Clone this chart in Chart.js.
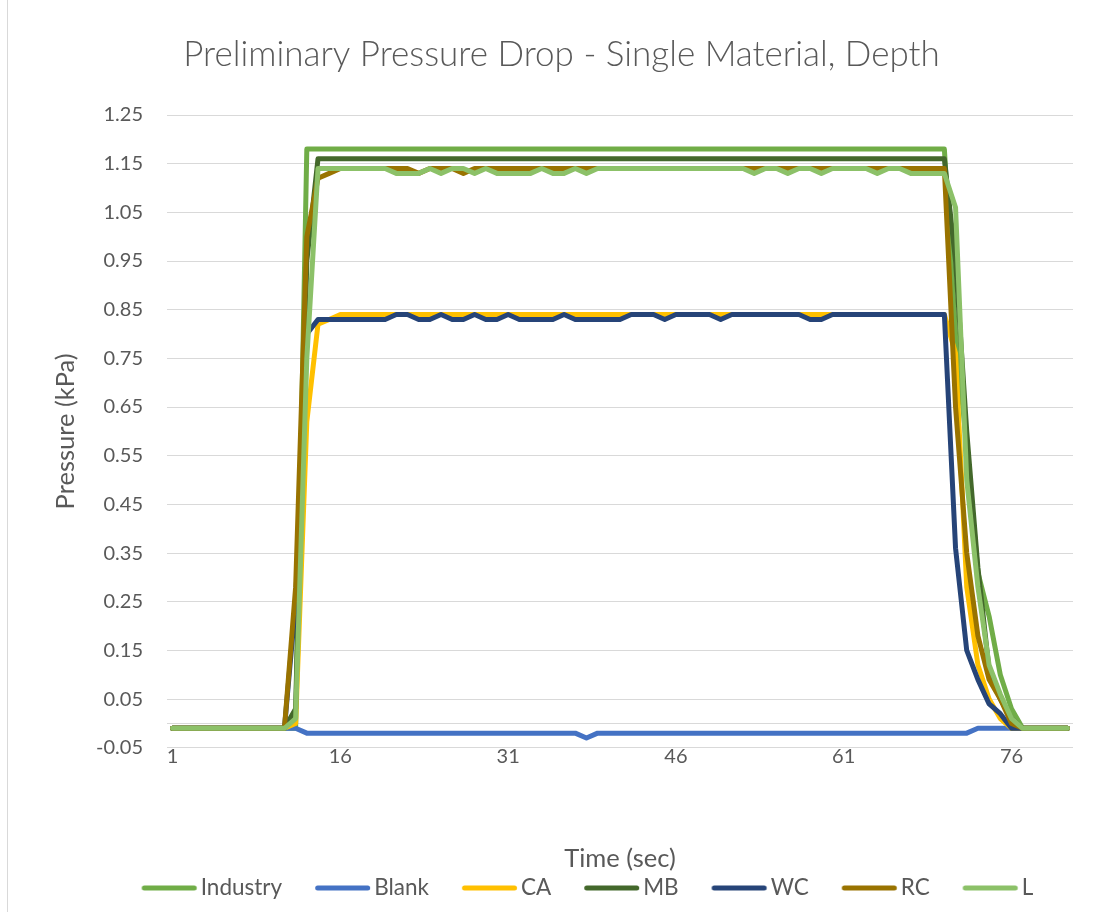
<!DOCTYPE html>
<html>
<head>
<meta charset="utf-8">
<script src="https://cdn.jsdelivr.net/npm/chart.js@4.4.1/dist/chart.umd.min.js"></script>
<style>
  html, body { margin: 0; padding: 0; background: #ffffff; }
  #wrap { position: relative; width: 1104px; height: 912px; overflow: hidden; }
  #frame { position: absolute; left: 7px; top: 0; width: 1px; height: 912px; background: #d9d9d9; }
  canvas { position: absolute; left: 0; top: 0; }
</style>
</head>
<body>
<div id="wrap">
  <canvas id="chart" width="1104" height="912"></canvas>
  <div id="frame"></div>
</div>
<script>
// Time axis (seconds)
const timeSec = [
  1, 2, 3, 4, 5, 6, 7, 8, 9, 10,
  11, 12, 13, 14, 15, 16, 17, 18, 19, 20,
  21, 22, 23, 24, 25, 26, 27, 28, 29, 30,
  31, 32, 33, 34, 35, 36, 37, 38, 39, 40,
  41, 42, 43, 44, 45, 46, 47, 48, 49, 50,
  51, 52, 53, 54, 55, 56, 57, 58, 59, 60,
  61, 62, 63, 64, 65, 66, 67, 68, 69, 70,
  71, 72, 73, 74, 75, 76, 77, 78, 79, 80,
  81
];
const xTickLabels = ['1', '16', '31', '46', '61', '76'];
const yTickValues = [-0.05, 0.05, 0.15, 0.25, 0.35, 0.45, 0.55, 0.65, 0.75, 0.85, 0.95, 1.05, 1.15, 1.25];

// Pressure readings (kPa)
const industry = [
  -0.01, -0.01, -0.01, -0.01, -0.01, -0.01, -0.01, -0.01, -0.01, -0.01,
  -0.01, -0.01, 1.18, 1.18, 1.18, 1.18, 1.18, 1.18, 1.18, 1.18,
  1.18, 1.18, 1.18, 1.18, 1.18, 1.18, 1.18, 1.18, 1.18, 1.18,
  1.18, 1.18, 1.18, 1.18, 1.18, 1.18, 1.18, 1.18, 1.18, 1.18,
  1.18, 1.18, 1.18, 1.18, 1.18, 1.18, 1.18, 1.18, 1.18, 1.18,
  1.18, 1.18, 1.18, 1.18, 1.18, 1.18, 1.18, 1.18, 1.18, 1.18,
  1.18, 1.18, 1.18, 1.18, 1.18, 1.18, 1.18, 1.18, 1.18, 1.18,
  0.80, 0.57, 0.31, 0.22, 0.10, 0.03, -0.01, -0.01, -0.01, -0.01,
  -0.01
];
const blank = [
  -0.01, -0.01, -0.01, -0.01, -0.01, -0.01, -0.01, -0.01, -0.01, -0.01,
  -0.01, -0.01, -0.02, -0.02, -0.02, -0.02, -0.02, -0.02, -0.02, -0.02,
  -0.02, -0.02, -0.02, -0.02, -0.02, -0.02, -0.02, -0.02, -0.02, -0.02,
  -0.02, -0.02, -0.02, -0.02, -0.02, -0.02, -0.02, -0.03, -0.02, -0.02,
  -0.02, -0.02, -0.02, -0.02, -0.02, -0.02, -0.02, -0.02, -0.02, -0.02,
  -0.02, -0.02, -0.02, -0.02, -0.02, -0.02, -0.02, -0.02, -0.02, -0.02,
  -0.02, -0.02, -0.02, -0.02, -0.02, -0.02, -0.02, -0.02, -0.02, -0.02,
  -0.02, -0.02, -0.01, -0.01, -0.01, -0.01, -0.01, -0.01, -0.01, -0.01,
  -0.01
];
const ca = [
  -0.01, -0.01, -0.01, -0.01, -0.01, -0.01, -0.01, -0.01, -0.01, -0.01,
  -0.01, 0.00, 0.62, 0.82, 0.83, 0.84, 0.84, 0.84, 0.84, 0.84,
  0.84, 0.84, 0.84, 0.84, 0.84, 0.84, 0.84, 0.84, 0.84, 0.84,
  0.84, 0.84, 0.84, 0.84, 0.84, 0.84, 0.84, 0.84, 0.84, 0.84,
  0.84, 0.84, 0.84, 0.84, 0.84, 0.84, 0.84, 0.84, 0.84, 0.84,
  0.84, 0.84, 0.84, 0.84, 0.84, 0.84, 0.84, 0.84, 0.84, 0.84,
  0.84, 0.84, 0.84, 0.84, 0.84, 0.84, 0.84, 0.84, 0.84, 0.84,
  0.76, 0.28, 0.12, 0.05, 0.01, -0.01, -0.01, -0.01, -0.01, -0.01,
  -0.01
];
const mb = [
  -0.01, -0.01, -0.01, -0.01, -0.01, -0.01, -0.01, -0.01, -0.01, -0.01,
  -0.01, 0.03, 0.95, 1.16, 1.16, 1.16, 1.16, 1.16, 1.16, 1.16,
  1.16, 1.16, 1.16, 1.16, 1.16, 1.16, 1.16, 1.16, 1.16, 1.16,
  1.16, 1.16, 1.16, 1.16, 1.16, 1.16, 1.16, 1.16, 1.16, 1.16,
  1.16, 1.16, 1.16, 1.16, 1.16, 1.16, 1.16, 1.16, 1.16, 1.16,
  1.16, 1.16, 1.16, 1.16, 1.16, 1.16, 1.16, 1.16, 1.16, 1.16,
  1.16, 1.16, 1.16, 1.16, 1.16, 1.16, 1.16, 1.16, 1.16, 1.16,
  0.95, 0.60, 0.32, 0.11, 0.05, 0.01, -0.01, -0.01, -0.01, -0.01,
  -0.01
];
const wc = [
  -0.01, -0.01, -0.01, -0.01, -0.01, -0.01, -0.01, -0.01, -0.01, -0.01,
  -0.01, 0.25, 0.80, 0.83, 0.83, 0.83, 0.83, 0.83, 0.83, 0.83,
  0.84, 0.84, 0.83, 0.83, 0.84, 0.83, 0.83, 0.84, 0.83, 0.83,
  0.84, 0.83, 0.83, 0.83, 0.83, 0.84, 0.83, 0.83, 0.83, 0.83,
  0.83, 0.84, 0.84, 0.84, 0.83, 0.84, 0.84, 0.84, 0.84, 0.83,
  0.84, 0.84, 0.84, 0.84, 0.84, 0.84, 0.84, 0.83, 0.83, 0.84,
  0.84, 0.84, 0.84, 0.84, 0.84, 0.84, 0.84, 0.84, 0.84, 0.84,
  0.36, 0.15, 0.09, 0.04, 0.02, -0.01, -0.01, -0.01, -0.01, -0.01,
  -0.01
];
const rc = [
  -0.01, -0.01, -0.01, -0.01, -0.01, -0.01, -0.01, -0.01, -0.01, -0.01,
  -0.01, 0.28, 1.00, 1.12, 1.13, 1.14, 1.14, 1.14, 1.14, 1.14,
  1.14, 1.14, 1.13, 1.14, 1.14, 1.14, 1.13, 1.14, 1.14, 1.14,
  1.14, 1.14, 1.14, 1.14, 1.14, 1.14, 1.14, 1.14, 1.14, 1.14,
  1.14, 1.14, 1.14, 1.14, 1.14, 1.14, 1.14, 1.14, 1.14, 1.14,
  1.14, 1.14, 1.14, 1.14, 1.14, 1.14, 1.14, 1.14, 1.14, 1.14,
  1.14, 1.14, 1.14, 1.14, 1.14, 1.14, 1.14, 1.14, 1.14, 1.14,
  0.65, 0.35, 0.18, 0.09, 0.05, 0.00, -0.01, -0.01, -0.01, -0.01,
  -0.01
];
const lSeries = [
  -0.01, -0.01, -0.01, -0.01, -0.01, -0.01, -0.01, -0.01, -0.01, -0.01,
  -0.01, 0.01, 0.75, 1.14, 1.14, 1.14, 1.14, 1.14, 1.14, 1.14,
  1.13, 1.13, 1.13, 1.14, 1.13, 1.14, 1.14, 1.13, 1.14, 1.13,
  1.13, 1.13, 1.13, 1.14, 1.13, 1.13, 1.14, 1.13, 1.14, 1.14,
  1.14, 1.14, 1.14, 1.14, 1.14, 1.14, 1.14, 1.14, 1.14, 1.14,
  1.14, 1.14, 1.13, 1.14, 1.14, 1.13, 1.14, 1.14, 1.13, 1.14,
  1.14, 1.14, 1.14, 1.13, 1.14, 1.14, 1.13, 1.13, 1.13, 1.13,
  1.06, 0.50, 0.28, 0.12, 0.06, 0.01, -0.01, -0.01, -0.01, -0.01,
  -0.01
];

const seriesNames = ['Industry', 'Blank', 'CA', 'MB', 'WC', 'RC', 'L'];
const seriesData = [industry, blank, ca, mb, wc, rc, lSeries];
const seriesColors = ['#70AD47', '#4472C4', '#FFC000', '#43682B', '#264478', '#997300', '#8CC168'];

const FONT = 'Lato, "Open Sans", sans-serif';
const TEXT = '#595959';
const GRID = '#d9d9d9';

// legend key: a short round-capped stroke, set a little to the right
// inside its box so it sits close to its label
const KEY_BOX = 71.75;
function legendKey(color) {
  const c = document.createElement('canvas');
  c.width = 160;
  c.height = 12;
  const g = c.getContext('2d');
  const imgLeft = KEY_BOX / 2 - c.width / 2;
  g.strokeStyle = color;
  g.lineWidth = 5;
  g.lineCap = 'round';
  g.beginPath();
  g.moveTo(24 + 2.5 - imgLeft, 6);
  g.lineTo(79 - 2.5 - imgLeft, 6);
  g.stroke();
  return c;
}

// horizontal axis line at zero pressure
const zeroLine = {
  id: 'zeroLine',
  beforeDatasetsDraw(chart) {
    const y = Math.round(chart.scales.y.getPixelForValue(0)) + 0.5;
    const { left, right } = chart.chartArea;
    const ctx = chart.ctx;
    ctx.save();
    ctx.strokeStyle = GRID;
    ctx.lineWidth = 1;
    ctx.beginPath();
    ctx.moveTo(left, y);
    ctx.lineTo(right, y);
    ctx.stroke();
    ctx.restore();
  }
};

// move the legend row a bit to the right
const legendNudge = {
  id: 'legendNudge',
  afterLayout(chart) {
    if (chart.legend) {
      chart.legend.left += 14;
      chart.legend.right += 14;
    }
  }
};

const datasets = seriesNames.map((name, i) => ({
  label: name,
  data: seriesData[i],
  borderColor: seriesColors[i],
  backgroundColor: seriesColors[i],
  borderWidth: 5,
  borderCapStyle: 'round',
  borderJoinStyle: 'round',
  pointRadius: 0,
  pointStyle: legendKey(seriesColors[i]),
  tension: 0,
  fill: false,
  // later series are painted over earlier ones
  order: seriesNames.length - 1 - i
}));

new Chart(document.getElementById('chart'), {
  type: 'line',
  data: { labels: timeSec, datasets },
  options: {
    responsive: false,
    animation: false,
    devicePixelRatio: 1,
    layout: { padding: { left: 50, right: 31, top: 0, bottom: 2.75 } },
    plugins: {
      title: {
        display: true,
        text: 'Preliminary Pressure Drop - Single Material, Depth',
        color: TEXT,
        font: { family: FONT, size: 35, weight: 300 },
        padding: { top: 34, bottom: 39 }
      },
      legend: {
        position: 'bottom',
        reverse: true,
        labels: {
          usePointStyle: true,
          pointStyleWidth: KEY_BOX,
          color: TEXT,
          font: { family: FONT, size: 22.5 },
          padding: 9
        }
      },
      tooltip: { enabled: false }
    },
    scales: {
      x: {
        type: 'category',
        offset: true,
        grid: { display: false, drawTicks: false },
        border: { display: false },
        ticks: {
          autoSkip: false,
          maxRotation: 0,
          padding: -3,
          color: TEXT,
          font: { family: FONT, size: 20 },
          callback(value) {
            const lab = String(this.getLabelForValue(value));
            return xTickLabels.includes(lab) ? lab : '';
          }
        },
        title: {
          display: true,
          text: 'Time (sec)',
          color: TEXT,
          font: { family: FONT, size: 25.5 },
          padding: { top: 77.4, bottom: -6 }
        }
      },
      y: {
        min: -0.05,
        max: 1.25,
        afterBuildTicks(scale) {
          scale.ticks = yTickValues.map(v => ({ value: v }));
        },
        afterFit(scale) { scale.width = 117; },
        grid: { color: GRID, lineWidth: 1, drawTicks: false },
        border: { display: false },
        ticks: {
          padding: 24,
          color: TEXT,
          font: { family: FONT, size: 20 },
          callback: v => Number(v).toFixed(2)
        },
        title: {
          display: true,
          text: 'Pressure (kPa)',
          color: TEXT,
          font: { family: FONT, size: 25.5 },
          padding: 0
        }
      }
    }
  },
  plugins: [zeroLine, legendNudge]
});
</script>
</body>
</html>
